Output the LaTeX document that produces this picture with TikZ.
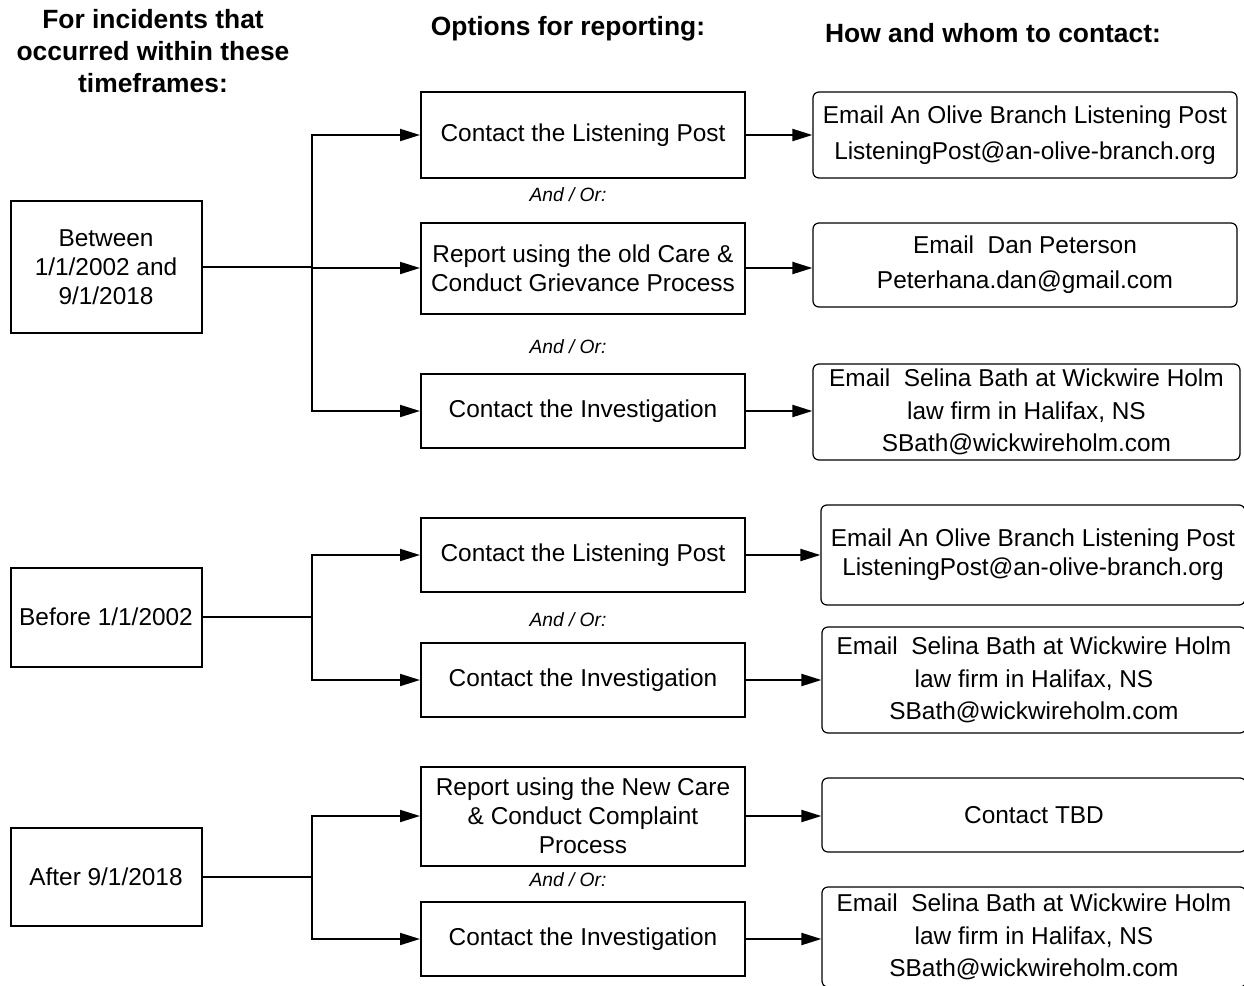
\documentclass[tikz,border=0pt]{standalone}
\usepackage{fontspec}
\setmainfont{Liberation Sans}
\usetikzlibrary{arrows.meta,positioning}

\tikzset{
    timebox/.style={draw, line width=1pt, minimum width=95.5pt, inner sep=0pt, align=center,
        font=\fontsize{12.2}{14.6}\selectfont},
    optbox/.style={draw, line width=1pt, minimum width=162pt, inner sep=0pt, align=center,
        font=\fontsize{12.2}{14.6}\selectfont},
    contactbox/.style={draw, line width=0.6pt, rounded corners=3pt, minimum width=212pt,
        inner sep=0pt, align=center, font=\fontsize{12.2}{16.2}\selectfont},
    andor/.style={font=\fontsize{9.6}{11}\selectfont\itshape},
    header/.style={align=center, font=\fontsize{13.2}{16}\selectfont\bfseries},
    conn/.style={line width=1pt},
    arrow/.style={conn, -{Triangle[length=10pt, width=6pt]}}
}

\begin{document}
\begin{tikzpicture}[x=0.5pt, y=-0.5pt]
        \useasboundingbox (0, 0) rectangle (1244, 986);
        \clip (0, 0) rectangle (1244, 986);

        % column headers
        \node[header] (hwhen) at (153, 51) {For incidents that\\occurred within these\\timeframes:};
        \node[header] (hoptions) at (568, 29) {Options for reporting:};
        \node[header] (hcontact) at (993, 33) {How and whom to contact:};

        % timeframes
        \node[timebox, minimum height=66pt] (between) at (106, 267) {Between\\1/1/2002 and\\9/1/2018};
        \node[timebox, minimum height=49.5pt] (before) at (106, 617) {Before 1/1/2002};
        \node[timebox, minimum height=49pt] (after) at (106, 877) {After 9/1/2018};

        % options
        \node[optbox, minimum height=43pt] (postA) at (583, 135) {Contact the Listening Post};
        \node[optbox, minimum height=45.5pt] (oldcare) at (583, 268) {Report using the old Care \&\\Conduct Grievance Process};
        \node[optbox, minimum height=37pt] (invA) at (583, 411) {Contact the Investigation};
        \node[optbox, minimum height=37pt] (postB) at (583, 555) {Contact the Listening Post};
        \node[optbox, minimum height=37pt] (invB) at (583, 680) {Contact the Investigation};
        \node[optbox, minimum height=49.5pt] (newcare) at (583, 816) {Report using the New Care\\\& Conduct Complaint\\Process};
        \node[optbox, minimum height=37pt] (invC) at (583, 939) {Contact the Investigation};

        \node[andor] (ao1) at (568, 195) {And / Or:};
        \node[andor] (ao2) at (568, 347) {And / Or:};
        \node[andor] (ao3) at (568, 620) {And / Or:};
        \node[andor] (ao4) at (568, 880) {And / Or:};

        % contacts
        \node[contactbox, minimum height=43pt, font=\fontsize{12.2}{18}\selectfont] (olive1) at (1025, 135)
                {Email An Olive Branch Listening Post\\ListeningPost@an-olive-branch.org};
        \node[contactbox, minimum height=42pt, font=\fontsize{12.2}{17.5}\selectfont] (dan) at (1025, 265)
                {Email\ \ Dan Peterson\\Peterhana.dan@gmail.com};
        \node[contactbox, minimum height=48pt, minimum width=213.5pt] (selina1) at (1026.5, 412)
                {Email\ \ Selina Bath at Wickwire Holm\\law firm in Halifax, NS\\SBath@wickwireholm.com};
        \node[contactbox, minimum height=50pt, font=\fontsize{12.2}{14.6}\selectfont] (olive2) at (1033, 555)
                {Email An Olive Branch Listening Post\\ListeningPost@an-olive-branch.org};
        \node[contactbox, minimum height=53pt] (selina2) at (1034, 680)
                {Email\ \ Selina Bath at Wickwire Holm\\law firm in Halifax, NS\\SBath@wickwireholm.com};
        \node[contactbox, minimum height=37pt] (tbd) at (1034, 815) {Contact TBD};
        \node[contactbox, minimum height=50pt] (selina3) at (1034, 937)
                {Email\ \ Selina Bath at Wickwire Holm\\law firm in Halifax, NS\\SBath@wickwireholm.com};

        % branch points
        \coordinate (splitA) at (312, 267);
        \coordinate (splitB) at (312, 617);
        \coordinate (splitC) at (312, 877);

        \draw[conn] (between.east) -- (splitA);
        \draw[arrow] (splitA) |- (postA.west);
        \draw[arrow] (splitA) |- (oldcare.west);
        \draw[arrow] (splitA) |- (invA.west);

        \draw[conn] (before.east) -- (splitB);
        \draw[arrow] (splitB) |- (postB.west);
        \draw[arrow] (splitB) |- (invB.west);

        \draw[conn] (after.east) -- (splitC);
        \draw[arrow] (splitC) |- (newcare.west);
        \draw[arrow] (splitC) |- (invC.west);

        % options to contacts
        \draw[arrow] (postA.east) -- (postA.east -| olive1.west);
        \draw[arrow] (oldcare.east) -- (oldcare.east -| dan.west);
        \draw[arrow] (invA.east) -- (invA.east -| selina1.west);
        \draw[arrow] (postB.east) -- (postB.east -| olive2.west);
        \draw[arrow] (invB.east) -- (invB.east -| selina2.west);
        \draw[arrow] (newcare.east) -- (newcare.east -| tbd.west);
        \draw[arrow] (invC.east) -- (invC.east -| selina3.west);
\end{tikzpicture}
\end{document}
